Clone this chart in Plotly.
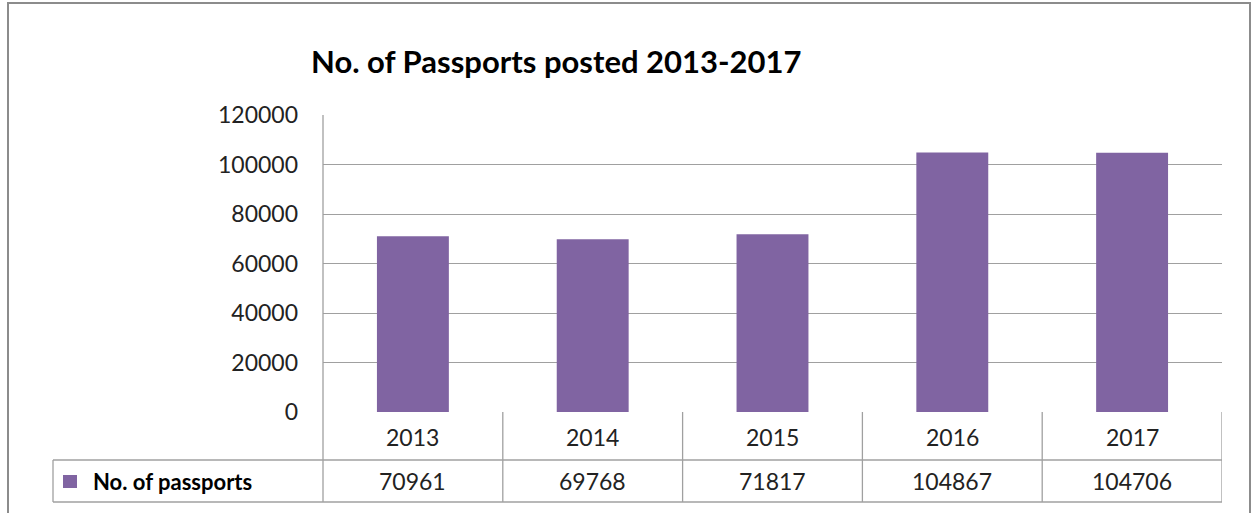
import plotly.graph_objects as go

# Data
years = ["2013", "2014", "2015", "2016", "2017"]
passports = [70961, 69768, 71817, 104867, 104706]
series_name = "No. of passports"
title_text = "No. of Passports posted 2013-2017"
y_ticks = [0, 20000, 40000, 60000, 80000, 100000, 120000]

# Canvas and plot-area geometry (pixels)
W, H = 1257, 513
L, R, T, B = 323, 1222, 115, 412
BAR_COLOR = "#8064A2"
LINE_COLOR = "#A0A0A0"
FONT = "Lato"


def px_x(px):
    return (px - L) / (R - L)


def px_y(py):
    return (B - py) / (B - T)


row1_bottom = 460
row2_bottom = 502

fig = go.Figure()
fig.add_trace(go.Bar(
    x=list(range(len(years))),
    y=passports,
    width=0.4,
    marker=dict(color=BAR_COLOR, line=dict(width=0)),
    name=series_name,
    showlegend=False,
    hoverinfo="skip",
))

shapes = []
line = dict(color=LINE_COLOR, width=1.3)

# vertical axis line down through the data table
shapes.append(dict(type="line", xref="paper", yref="paper",
                   x0=0, x1=0, y0=1, y1=px_y(row2_bottom), line=line))
# column separators and right edge of the table
for i in range(1, len(years) + 1):
    shapes.append(dict(type="line", xref="x", yref="paper",
                       x0=i - 0.5, x1=i - 0.5, y0=0, y1=px_y(row2_bottom), line=line))
# horizontal table rules
shapes.append(dict(type="line", xref="paper", yref="paper",
                   x0=px_x(53), x1=1, y0=px_y(row1_bottom), y1=px_y(row1_bottom), line=line))
shapes.append(dict(type="line", xref="paper", yref="paper",
                   x0=px_x(53), x1=1, y0=px_y(row2_bottom), y1=px_y(row2_bottom), line=line))
# left edge of legend cell
shapes.append(dict(type="line", xref="paper", yref="paper",
                   x0=px_x(53), x1=px_x(53), y0=px_y(row1_bottom), y1=px_y(row2_bottom), line=line))
# legend key square
shapes.append(dict(type="rect", xref="paper", yref="paper",
                   x0=px_x(63), x1=px_x(77), y0=px_y(475), y1=px_y(488),
                   fillcolor=BAR_COLOR, line=dict(width=0)))
# outer chart border
shapes.append(dict(type="rect", xref="paper", yref="paper",
                   x0=px_x(8), x1=px_x(1250), y0=px_y(3), y1=px_y(530),
                   line=dict(color="#8C8C8C", width=2)))

annotations = []
annotations.append(dict(text=f"<b>{title_text}</b>", xref="paper", yref="paper",
                        x=px_x(556), y=px_y(61), xanchor="center", yanchor="middle",
                        showarrow=False, font=dict(family=FONT, size=31, color="#000")))
for i, (yr, v) in enumerate(zip(years, passports)):
    annotations.append(dict(text=yr, xref="x", yref="paper", x=i, y=px_y(437),
                            xanchor="center", yanchor="middle", showarrow=False,
                            font=dict(family=FONT, size=23, color="#222")))
    annotations.append(dict(text=str(v), xref="x", yref="paper", x=i, y=px_y(481),
                            xanchor="center", yanchor="middle", showarrow=False,
                            font=dict(family=FONT, size=23, color="#222")))
annotations.append(dict(text=f"<b>{series_name}</b>", xref="paper", yref="paper",
                        x=px_x(91), y=px_y(481), xanchor="left", yanchor="middle",
                        showarrow=False, font=dict(family=FONT, size=22, color="#000")))

fig.update_layout(
    width=W, height=H,
    margin=dict(l=L, r=W - R, t=T, b=H - B, pad=0),
    paper_bgcolor="white", plot_bgcolor="white",
    showlegend=False,
    xaxis=dict(range=[-0.5, len(years) - 0.5], showticklabels=False, showgrid=False,
               zeroline=False, showline=False, fixedrange=True),
    yaxis=dict(range=[0, 120000], tickvals=y_ticks, ticktext=[str(t) for t in y_ticks],
               showgrid=True, gridcolor=LINE_COLOR, gridwidth=1.3, zeroline=False,
               showline=False, ticks="", ticklabelstandoff=24,
               tickfont=dict(family=FONT, size=23, color="#222"), fixedrange=True),
    shapes=shapes,
    annotations=annotations,
    font=dict(family=FONT),
)

fig.write_html("out.html")
